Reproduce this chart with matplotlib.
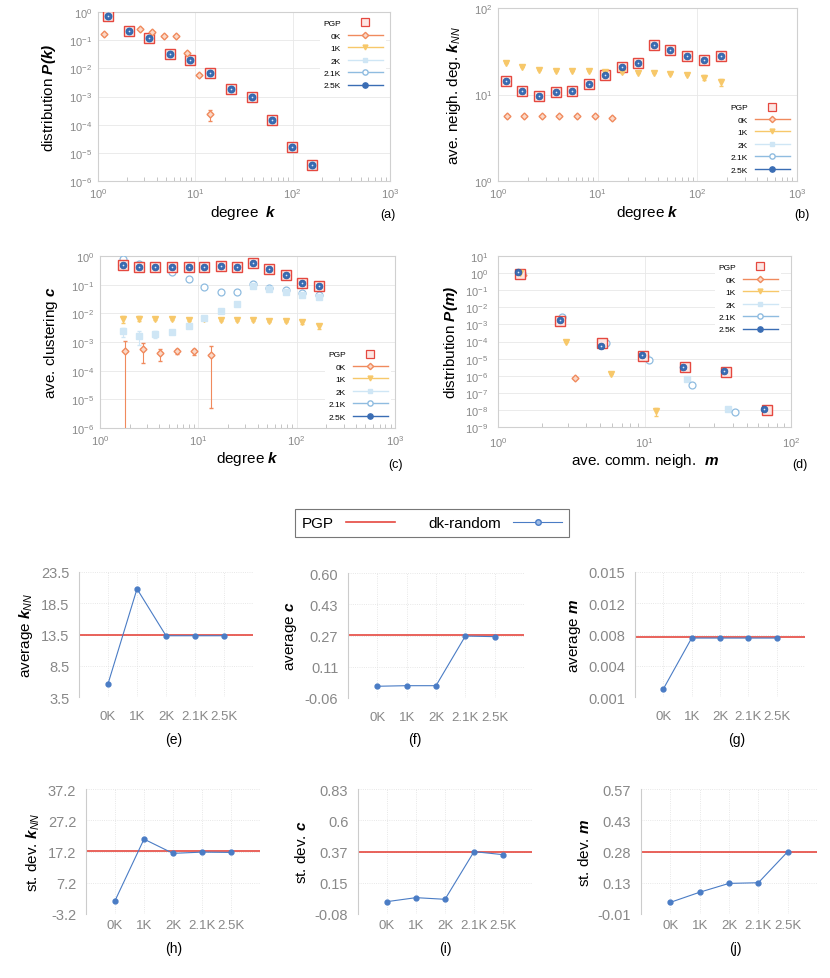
import numpy as np
import matplotlib
matplotlib.use('Agg')
import matplotlib.pyplot as plt
from matplotlib.lines import Line2D
from matplotlib.ticker import LogLocator, NullLocator

# --- fonts ---
plt.rcParams['font.family'] = ['Liberation Sans', 'DejaVu Sans']
plt.rcParams['mathtext.fontset'] = 'custom'
plt.rcParams['mathtext.rm'] = 'Liberation Sans'
plt.rcParams['mathtext.it'] = 'Liberation Sans:italic'
plt.rcParams['mathtext.bf'] = 'Liberation Sans:bold:italic'

# --- colours ---
RED = '#e5483f'
ORANGE = '#f08a5d'
YELLOW = '#f7c86a'
LBLUE = '#cfe6f5'
MBLUE = '#8fbce0'
DBLUE = '#3a6db4'
LINEBLUE = '#4a7cc5'

# --- (a) degree distribution ---
k_a = [1.27, 2.08, 3.35, 5.46, 8.77, 14.2, 23.1, 37.8, 60.7, 98.9, 158.7]
pk_pgp = [0.75, 0.22, 0.115, 0.032, 0.02, 0.0066, 0.0019, 0.00097, 1.5e-4, 1.6e-5, 3.7e-6]
k_a_0k = [1.15, 2.68, 3.59, 4.74, 6.29, 8.3, 10.9, 14.3]
pk_0k = [0.16, 0.24, 0.2, 0.14, 0.135, 0.034, 0.0058, 2.3e-4]
pk_0k_err = [0, 0, 0, 0, 0, 0.004, 0.0006, 1.0e-4]

# --- (b) average neighbour degree ---
k_b = [1.19, 1.76, 2.58, 3.8, 5.59, 8.16, 11.8, 17.4, 25.4, 36.8, 53.7, 79.4, 117, 171]
knn_pgp = [14.3, 10.9, 9.7, 10.8, 11.0, 13.2, 16.7, 20.8, 23.2, 36.9, 32.3, 27.7, 25.1, 27.5]
knn_1k = [23.0, 20.6, 19.4, 18.9, 18.7, 18.6, 18.1, 18.3, 17.9, 17.9, 17.1, 16.7, 15.7, 13.8]
knn_1k_err = [0, 0, 0, 0, 0, 0, 0.6, 0.5, 0, 0, 0, 0, 1.0, 1.4]
k_b_0k = [1.24, 1.83, 2.75, 4.1, 6.18, 9.3, 14.0]
knn_0k = [5.58, 5.58, 5.58, 5.58, 5.58, 5.58, 5.33]

# --- (c) clustering ---
k_c = [1.73, 2.51, 3.62, 5.4, 7.97, 11.5, 16.9, 24.9, 36.3, 52.7, 78, 113, 167]
c_pgp = [0.474, 0.415, 0.404, 0.415, 0.415, 0.415, 0.449, 0.426, 0.556, 0.363, 0.213, 0.118, 0.0906]
c_21k = [0.766, 0.541, 0.425, 0.285, 0.163, 0.0859, 0.0561, 0.0561, 0.109, 0.0794, 0.0658, 0.0504, 0.043]
c_2k = [0.00234, 0.00157, 0.00189, 0.00216, 0.00369, 0.00664, 0.0123, 0.0209, 0.09, 0.07, 0.056, 0.045, 0.038]
c_2k_err = [0.0008, 0.0008, 0.0005, 0.0003, 0.0003, 0.0008, 0.001, 0.002, 0.01, 0.008, 0.008, 0.006, 0.005]
c_1k = [0.0063, 0.0066, 0.0066, 0.0063, 0.0058, 0.0066, 0.0060, 0.0058, 0.0058, 0.0052, 0.0052, 0.0048, 0.0035]
c_1k_err = [0.0018, 0.0012, 0.0008, 0.0005, 0.0004, 0.0008, 0.0005, 0.0004, 0.0004, 0.0004, 0.0004, 0.0006, 0.0006]
k_c_0k = [1.8, 2.72, 4.07, 6.07, 9.03, 13.6]
c_0k = [0.0005, 0.00057, 0.0004, 0.00047, 0.00047, 0.00036]
c_0k_err = [0.0006, 0.00038, 0.00018, 0.0001, 0.00012, 0.000355]

# --- (d) common neighbours ---
m_pgp = [1.41, 2.67, 5.14, 9.84, 18.9, 35.8, 68.6]
pm_pgp = [0.935, 0.00164, 7.8e-5, 1.37e-5, 3.42e-6, 1.75e-6, 1.02e-8]
m_25k = [1.38, 2.63, 5.06, 9.64, 18.2, 34.7, 65.8]
pm_25k = [1.1, 0.00187, 5.25e-5, 1.64e-5, 3.27e-6, 1.91e-6, 1.07e-8]
m_21k = [1.45, 2.75, 5.44, 10.8, 21.2, 41.6]
pm_21k = [0.95, 0.0028, 8.5e-5, 8.7e-6, 3.05e-7, 7.5e-9]
m_2k = [1.43, 2.72, 5.3, 10.2, 19.4, 37.3]
pm_2k = [1.0, 0.0025, 8e-5, 1.05e-5, 6.3e-7, 1.12e-8]
m_1k = [1.42, 2.91, 5.89, 11.9]
pm_1k = [1.0, 9.8e-5, 1.34e-6, 8.5e-9]
pm_1k_err = [0, 0, 0, 4e-9]
m_0k = [1.48, 3.38]
pm_0k = [0.8, 7.1e-7]

# --- (e)-(j) summary stats ---
models = ['0K', '1K', '2K', '2.1K', '2.5K']
avg_knn = [5.6, 20.8, 13.3, 13.3, 13.3]
avg_c = [0.002, 0.005, 0.005, 0.267, 0.264]
avg_m = [0.0019, 0.0076, 0.0076, 0.0076, 0.0076]
std_knn = [1.1, 21.0, 16.4, 16.8, 16.7]
std_c = [0.010, 0.039, 0.027, 0.374, 0.352]
std_m = [0.044, 0.091, 0.132, 0.135, 0.279]
pgp_avg_knn, pgp_avg_c, pgp_avg_m = 13.5, 0.271, 0.0077
pgp_std_knn, pgp_std_c, pgp_std_m = 17.1, 0.369, 0.276

lbl_e = ['3.5', '8.5', '13.5', '18.5', '23.5']
lbl_f = ['-0.06', '0.11', '0.27', '0.43', '0.60']
lbl_g = ['0.001', '0.004', '0.008', '0.012', '0.015']
lbl_h = ['-3.2', '7.2', '17.2', '27.2', '37.2']
lbl_i = ['-0.08', '0.15', '0.37', '0.6', '0.83']
lbl_j = ['-0.01', '0.13', '0.28', '0.43', '0.57']


def style_log(ax, xlim, ylim, xpad=4, ypad=4):
    ax.set_xscale('log')
    ax.set_yscale('log')
    ax.set_xlim(xlim)
    ax.set_ylim(ylim)
    ax.yaxis.set_major_locator(LogLocator(base=10, numticks=15))
    ax.yaxis.set_minor_locator(NullLocator())
    ax.grid(True, which='major', color='#e8e8e8', lw=0.6)
    ax.set_axisbelow(True)
    ax.tick_params(which='both', direction='in', color='#bbbbbb', labelcolor='#888888', labelsize=8)
    ax.tick_params(which='major', length=0)
    ax.tick_params(axis='x', which='major', pad=xpad)
    ax.tick_params(axis='y', which='major', pad=ypad)
    ax.tick_params(axis='x', which='minor', length=3)
    for s in ax.spines.values():
        s.set_color('#d0d0d0')
        s.set_linewidth(0.8)


def pgp(ax, x, y):
    ax.plot(x, y, ls='none', marker='s', ms=6.5, mfc='#fde6e3', mec=RED, mew=1.0, zorder=3)


def dk25(ax, x, y):
    ax.plot(x, y, ls='none', marker='o', ms=4.8, mfc=DBLUE, mec='#2d5da3', mew=0.6, zorder=4)
    ax.plot(x, y, ls='none', marker='o', ms=1.2, mfc='#dbe8f8', mec='none', zorder=5)


def upper_legend(ax, loc, anchor):
    hs = [Line2D([], [], ls='none', marker='s', ms=5.5, mfc='#fde6e3', mec=RED, mew=0.9),
          Line2D([], [], color=ORANGE, lw=1, marker='D', ms=3.2, mfc='#fbd9c8', mec=ORANGE),
          Line2D([], [], color=YELLOW, lw=1, marker='v', ms=3.5, mfc=YELLOW, mec=YELLOW),
          Line2D([], [], color=LBLUE, lw=1, marker='s', ms=3.5, mfc=LBLUE, mec=LBLUE),
          Line2D([], [], color=MBLUE, lw=1, marker='o', ms=3.8, mfc='white', mec=MBLUE),
          Line2D([], [], color=DBLUE, lw=1, marker='o', ms=3.8, mfc=DBLUE, mec=DBLUE)]
    leg = ax.legend(hs, ['PGP', '0K', '1K', '2K', '2.1K', '2.5K'], loc=loc, bbox_to_anchor=anchor,
                    fontsize=6, markerfirst=False, handlelength=4.2, labelspacing=0.55,
                    frameon=True, framealpha=1, edgecolor='none', borderpad=0.4)
    return leg


fig = plt.figure(figsize=(8.3, 9.79), dpi=100)
W, H = 830.0, 979.0


def add_ax(l, t, r, b):
    return fig.add_axes([l / W, 1 - b / H, (r - l) / W, (b - t) / H])


# (a)
ax = add_ax(98, 13, 390, 182)
style_log(ax, (1, 1000), (1e-6, 1))
ax.errorbar(k_a_0k, pk_0k, yerr=pk_0k_err, ls='none', marker='D', ms=3.5, color=ORANGE,
            mfc='#fbd9c8', mec=ORANGE, elinewidth=0.8, capsize=1.5, zorder=3)
pgp(ax, k_a, pk_pgp)
ax.plot(k_a, pk_pgp, ls='none', marker='o', ms=5, mfc='white', mec=MBLUE, zorder=3)
dk25(ax, k_a, pk_pgp)
upper_legend(ax, 'upper right', (1.0, 1.0))
ax.set_xlabel(r'degree  $\mathbf{k}$', fontsize=11, labelpad=2)
ax.set_ylabel(r'distribution $\mathbf{P(k)}$', fontsize=11, labelpad=8)
fig.text(388 / W, 1 - 215 / H, '(a)', fontsize=9, ha='center', va='center')

# (b)
ax = add_ax(498, 9, 797, 182)
style_log(ax, (1, 1000), (1, 100))
ax.plot(k_b_0k, knn_0k, ls='none', marker='D', ms=3.5, mfc='#fbd9c8', mec=ORANGE, zorder=3)
ax.errorbar(k_b, knn_1k, yerr=knn_1k_err, ls='none', marker='v', ms=4, color=YELLOW,
            elinewidth=0.8, capsize=1.5, zorder=3)
pgp(ax, k_b, knn_pgp)
dk25(ax, k_b, knn_pgp)
upper_legend(ax, 'lower right', (1.0, 0.0))
ax.set_xlabel(r'degree $\mathbf{k}$', fontsize=11, labelpad=2)
ax.set_ylabel(r'ave. neigh. deg. $\mathbf{k}_{\mathit{NN}}$', fontsize=11, labelpad=8)
fig.text(802 / W, 1 - 215 / H, '(b)', fontsize=9, ha='center', va='center')

# (c)
ax = add_ax(100, 257, 395, 429)
style_log(ax, (1, 1000), (1e-6, 1))
ax.errorbar(k_c_0k, c_0k, yerr=c_0k_err, ls='none', marker='D', ms=3.5, color=ORANGE,
            mfc='#fbd9c8', mec=ORANGE, elinewidth=0.8, capsize=1.5, zorder=3)
ax.errorbar(k_c, c_1k, yerr=c_1k_err, ls='none', marker='v', ms=4, color=YELLOW,
            elinewidth=0.8, capsize=1.5, zorder=3)
ax.errorbar(k_c, c_2k, yerr=c_2k_err, ls='none', marker='s', ms=4, color=LBLUE,
            elinewidth=0.8, capsize=1.5, zorder=3)
ax.plot(k_c, c_21k, ls='none', marker='o', ms=5, mfc='white', mec=MBLUE, mew=0.9, zorder=3)
pgp(ax, k_c, c_pgp)
dk25(ax, k_c, c_pgp)
upper_legend(ax, 'lower right', (1.0, 0.0))
ax.set_xlabel(r'degree $\mathbf{k}$', fontsize=11, labelpad=1)
ax.set_ylabel(r'ave. clustering $\mathbf{c}$', fontsize=11, labelpad=8)
fig.text(395 / W, 1 - 465 / H, '(c)', fontsize=9, ha='center', va='center')

# (d)
ax = add_ax(498, 257, 791, 428)
style_log(ax, (1, 100), (1e-9, 10), xpad=6, ypad=7)
ax.plot(m_0k, pm_0k, ls='none', marker='D', ms=3.5, mfc='#fbd9c8', mec=ORANGE, zorder=3)
ax.errorbar(m_1k, pm_1k, yerr=pm_1k_err, ls='none', marker='v', ms=4, color=YELLOW,
            elinewidth=0.8, capsize=1.5, zorder=3)
ax.plot(m_2k, pm_2k, ls='none', marker='s', ms=4, color=LBLUE, zorder=3)
ax.plot(m_21k, pm_21k, ls='none', marker='o', ms=5, mfc='white', mec=MBLUE, mew=0.9, zorder=3)
pgp(ax, m_pgp, pm_pgp)
dk25(ax, m_25k, pm_25k)
upper_legend(ax, 'upper right', (0.98, 1.0))
ax.set_xlabel(r'ave. comm. neigh.  $\mathbf{m}$', fontsize=11, labelpad=1)
ax.set_ylabel(r'distribution $\mathbf{P(m)}$', fontsize=11, labelpad=4)
fig.text(800 / W, 1 - 465 / H, '(d)', fontsize=9, ha='center', va='center')


def bottom_panel(box, vals, pgp_val, ylim, ylabels, ylabel, tag, tag_xy, xpad):
    ax = add_ax(*box)
    x = np.arange(len(models))
    ax.axhline(pgp_val, color=RED, lw=1.2, zorder=2)
    ax.plot(x, vals, color=LINEBLUE, lw=0.8, marker='o', ms=3.5, mfc=LINEBLUE, mec=LINEBLUE, zorder=3)
    ax.set_xlim(-1, 5)
    ax.set_ylim(ylim)
    ax.set_yticks(np.linspace(ylim[0], ylim[1], 5))
    ax.set_yticklabels(ylabels)
    ax.set_xticks(x)
    ax.set_xticklabels(models)
    ax.grid(True, color='#e0e0e0', lw=0.6, ls=':')
    ax.set_axisbelow(True)
    for name, s in ax.spines.items():
        s.set_visible(name == 'left')
    ax.spines['left'].set_color('#cccccc')
    ax.tick_params(length=0, labelcolor='#888888', labelsize=10.5)
    ax.tick_params(axis='x', pad=xpad, labelsize=9.5)
    ax.tick_params(axis='y', pad=7)
    ax.set_ylabel(ylabel, fontsize=11, labelpad=4)
    fig.text(tag_xy[0] / W, 1 - tag_xy[1] / H, tag, fontsize=10, ha='center', va='center')
    return ax


bottom_panel((79, 573, 253, 698), avg_knn, pgp_avg_knn, (3.5, 23.5), lbl_e,
             r'average $\mathbf{k}_{\mathit{NN}}$', '(e)', (174, 740), 9.5)
bottom_panel((348, 574, 524, 699), avg_c, pgp_avg_c, (-0.06, 0.60), lbl_f,
             r'average $\mathbf{c}$', '(f)', (415, 740), 9.5)
bottom_panel((635, 573, 805, 698), avg_m, pgp_avg_m, (0.001, 0.015), lbl_g,
             r'average $\mathbf{m}$', '(g)', (737, 740), 9.5)
bottom_panel((86, 790, 260, 915), std_knn, pgp_std_knn, (-3.2, 37.2), lbl_h,
             r'st. dev. $\mathbf{k}_{\mathit{NN}}$', '(h)', (174, 949), 3.5)
bottom_panel((358, 790, 532, 915), std_c, pgp_std_c, (-0.08, 0.83), lbl_i,
             r'st. dev. $\mathbf{c}$', '(i)', (445, 949), 3.5)
bottom_panel((641, 790, 817, 915), std_m, pgp_std_m, (-0.01, 0.57), lbl_j,
             r'st. dev. $\mathbf{m}$', '(j)', (735, 949), 3.5)

# shared legend for (e)-(j)
h_pgp = Line2D([], [], color=RED, lw=1.2)
h_dk = Line2D([], [], color=LINEBLUE, lw=0.8, marker='o', ms=4, mfc='#9dbbe6', mec=LINEBLUE)
leg = fig.legend([h_pgp, h_dk], ['PGP', 'dk-random'], loc='center', bbox_to_anchor=(432 / W, 1 - 524 / H),
                 ncol=2, markerfirst=False, fontsize=11, frameon=True, fancybox=False,
                 edgecolor='#555555', handlelength=3.2, columnspacing=2.2, borderpad=0.45)
leg.get_frame().set_linewidth(0.8)

fig.savefig('out.png', dpi=100)
